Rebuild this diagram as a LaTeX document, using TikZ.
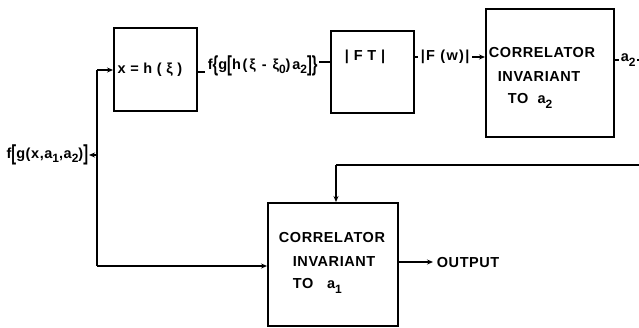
\documentclass[tikz,border=0pt]{standalone}
\usepackage{fontspec}
\setmainfont{Liberation Sans}
\newfontfamily\labfont[LetterSpace=4]{Liberation Sans}
\newfontfamily\widefont[LetterSpace=9]{Liberation Sans}
\newfontfamily\widerfont[LetterSpace=13]{Liberation Sans}
\usepackage{graphicx}
\usetikzlibrary{arrows.meta}
\newcommand{\tallb}[1]{\raisebox{-0.3ex}{\scalebox{1}[1.5]{#1}}}
\newcommand{\sbs}[1]{\raisebox{-0.55ex}{\fontsize{12}{13}\selectfont #1}}
\begin{document}
\begin{tikzpicture}[x=1pt,y=-1pt, line width=1.7pt,
  blk/.style={draw, line width=1.7pt, inner sep=0pt, anchor=north west},
  lbl/.style={font=\labfont\bfseries\fontsize{14.5}{17}\selectfont, inner sep=0pt},
  wlbl/.style={font=\widefont\bfseries\fontsize{14.5}{17}\selectfont, inner sep=0pt},
  wwlbl/.style={font=\widerfont\bfseries\fontsize{14.5}{17}\selectfont, inner sep=0pt},
  arr/.style={-{Stealth[length=6pt,width=5pt]}}]
\useasboundingbox (0,0) rectangle (639,327);
\fill[white] (0,0) rectangle (639,327);
% boxes
\node[blk, minimum width=83pt, minimum height=83pt] (b1) at (113,27) {};
\node[blk, minimum width=83pt, minimum height=82pt] (b2) at (330,30) {};
\node[blk, minimum width=128pt, minimum height=128pt] (b3) at (485,8) {};
\node[blk, minimum width=130pt, minimum height=123pt] (b4) at (267,202) {};
% box texts
\node[lbl] (t1) at (150,70) {x = h ( ξ )};
\node[lbl] (t2) at (365,57) {|\,\,F\ T\,\,|};
\node[lbl, anchor=west] (t3a) at (488,53) {CORRELATOR};
\node[lbl, anchor=west] (t3b) at (497,77) {INVARIANT};
\node[lbl, anchor=west] (t3c) at (507,101) {TO\ \ a\sbs{2}};
\node[lbl, anchor=west] (t4a) at (278,238) {CORRELATOR};
\node[lbl, anchor=west] (t4b) at (292,262) {INVARIANT};
\node[lbl, anchor=west] (t4c) at (292,286) {TO\ \ \ a\sbs{1}};
% signal labels
\node[lbl, anchor=east] (l0) at (89,155) {f\tallb{[}g(x,a\sbs{1},a\sbs{2})\tallb{]}};
\node[wwlbl, anchor=west] (l1) at (207,66) {f\tallb{\{}g\tallb{[}h(ξ - ξ\sbs{0})a\sbs{2}\tallb{]}\tallb{\}}};
\node[wlbl, anchor=west] (l2) at (420,57) {|F (w)|};
\node[lbl, anchor=west] (l3) at (620,60) {a\sbs{2}};
\node[lbl, anchor=west] (l4) at (436,263) {OUTPUT};
% junctions
\coordinate (j1) at (97,70);
\coordinate (jin) at (97,155);
\coordinate (j2) at (97,266);
\coordinate (fbR) at (639,165);
\coordinate (fbL) at (336,165);
\coordinate (a2e) at (639,60);
% connectors
\draw[arr] (j1) -- (j1 -| b1.west);
\draw (j1) -- (j2);
\draw[arr] (jin) -- (l0.east);
\draw[arr] (j2) -- (j2 -| b4.west);
\draw (b1.east |- 0,72) -- ([xshift=-2pt]l1.west |- 0,72);
\draw ([xshift=1pt]l1.east |- 0,62) -- (b2.west |- 0,62);
\draw (b2.east |- 0,57) -- ([xshift=-2pt]l2.west);
\draw[arr] ([xshift=2pt]l2.east) -- (b3.west |- l2.east);
\draw (b3.east |- 0,60) -- ([xshift=-1pt]l3.west);
\draw ([xshift=1pt]l3.east) -- (a2e);
\draw (fbR) -- (fbL);
\draw[arr] (fbL) -- (b4.north -| fbL);
\draw[arr] (b4.east |- 0,262) -- ([xshift=-3pt]l4.west |- 0,262);
\end{tikzpicture}
\end{document}
